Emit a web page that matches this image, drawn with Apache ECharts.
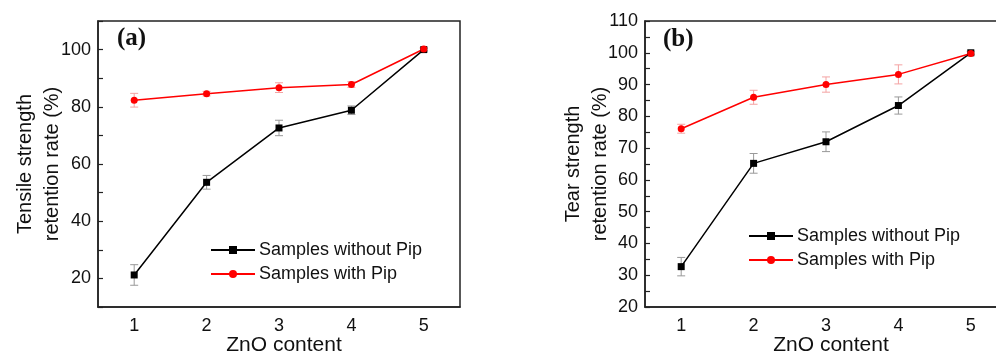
<!DOCTYPE html>
<html>
<head>
<meta charset="utf-8">
<style>
  html, body { margin: 0; padding: 0; background: #fff; }
  #main { width: 996px; height: 352px; }
</style>
<script src="https://cdn.jsdelivr.net/npm/echarts@6/dist/echarts.min.js"></script>
</head>
<body>
<div id="main"></div>
<script>
// ZnO content levels
var categories = ['1', '2', '3', '4', '5']

// (a) tensile strength retention rate (%)
var tensileWithout = [21.2, 53.6, 72.6, 78.8, 100]
var tensileWithoutErr = [3.6, 2.4, 2.7, 1.5, 0.5]
var tensileWith = [82.3, 84.6, 86.7, 87.8, 100.2]
var tensileWithErr = [2.4, 0.8, 1.7, 1.0, 0.5]

// (b) tear strength retention rate (%)
var tearWithout = [32.7, 65.2, 72.0, 83.4, 100]
var tearWithoutErr = [2.9, 3.1, 3.1, 2.7, 0.5]
var tearWith = [76.1, 86.0, 90.0, 93.2, 99.8]
var tearWithErr = [1.4, 2.2, 2.4, 3.0, 0.5]

var font = 'Liberation Sans, Arial, sans-serif'

function errData(vals, errs) {
  return vals.map(function (v, i) { return [i, v - errs[i], v + errs[i]] })
}

// error bars with caps
function errSeries(name, grid, vals, errs, color) {
  return {
    type: 'custom',
    name: name,
    xAxisIndex: grid,
    yAxisIndex: grid,
    z: 1,
    silent: true,
    encode: { x: 0, y: [1, 2] },
    data: errData(vals, errs),
    renderItem: function (params, api) {
      var lo = api.coord([api.value(0), api.value(1)])
      var hi = api.coord([api.value(0), api.value(2)])
      var w = 4
      var st = { stroke: color, lineWidth: 1 }
      return {
        type: 'group',
        children: [
          { type: 'line', shape: { x1: lo[0], y1: lo[1], x2: hi[0], y2: hi[1] }, style: st },
          { type: 'line', shape: { x1: lo[0] - w, y1: lo[1], x2: lo[0] + w, y2: lo[1] }, style: st },
          { type: 'line', shape: { x1: hi[0] - w, y1: hi[1], x2: hi[0] + w, y2: hi[1] }, style: st }
        ]
      }
    }
  }
}

function lineSeries(name, grid, vals, color, symbol) {
  return {
    type: 'line',
    name: name,
    xAxisIndex: grid,
    yAxisIndex: grid,
    z: 3,
    data: vals,
    symbol: symbol,
    symbolSize: 7,
    showAllSymbol: true,
    lineStyle: { color: color, width: 1.5 },
    itemStyle: { color: color },
    emphasis: { disabled: true }
  }
}

function xAxis(grid) {
  return {
    type: 'category',
    gridIndex: grid,
    data: categories,
    boundaryGap: true,
    name: 'ZnO content',
    nameLocation: 'middle',
    nameGap: 28,
    nameMoveOverlap: false,
    nameTextStyle: { fontFamily: font, fontSize: 21, color: '#111', padding: [0, 0, 0, 10] },
    axisLine: { lineStyle: { color: '#222', width: 1.5 } },
    axisTick: { alignWithLabel: true, inside: true, length: 6, lineStyle: { color: '#222', width: 1.2 } },
    axisLabel: { fontFamily: font, fontSize: 18, color: '#111', margin: 10 },
    splitLine: { show: false }
  }
}

var myChart = echarts.init(document.getElementById('main'))
myChart.setOption({
  animation: false,
  title: [
    { text: '(a)', left: 117, top: 26, padding: 0,
      textStyle: { fontFamily: 'Liberation Serif, Times New Roman, serif', fontWeight: 'bold', fontSize: 25, color: '#111' } },
    { text: '(b)', left: 663, top: 27, padding: 0,
      textStyle: { fontFamily: 'Liberation Serif, Times New Roman, serif', fontWeight: 'bold', fontSize: 25, color: '#111' } }
  ],
  legend: [
    {
      left: 210, top: 241, orient: 'vertical', itemGap: 6,
      itemWidth: 44, itemHeight: 10, padding: 0,
      data: ['Samples without Pip', 'Samples with Pip'],
      textStyle: { fontFamily: font, fontSize: 18, color: '#111', padding: [0, 0, 0, -1] }
    },
    {
      left: 748, top: 227, orient: 'vertical', itemGap: 6,
      itemWidth: 44, itemHeight: 10, padding: 0,
      data: ['Samples without Pip ', 'Samples with Pip '],
      textStyle: { fontFamily: font, fontSize: 18, color: '#111', padding: [0, 0, 0, -1] }
    }
  ],
  grid: [
    { left: 98, top: 21, width: 362, height: 286, outerBoundsMode: 'none', containLabel: false,
      show: true, borderColor: '#222', borderWidth: 1.5, backgroundColor: 'transparent' },
    { left: 645, top: 21, width: 362, height: 286, outerBoundsMode: 'none', containLabel: false,
      show: true, borderColor: '#222', borderWidth: 1.5, backgroundColor: 'transparent' }
  ],
  xAxis: [xAxis(0), xAxis(1)],
  yAxis: [
    {
      type: 'value', gridIndex: 0, min: 10, max: 110, interval: 10,
      name: 'Tensile strength\nretention rate (%)',
      nameLocation: 'middle', nameGap: 32, nameMoveOverlap: false,
      nameTextStyle: { fontFamily: font, fontSize: 20, color: '#111', lineHeight: 27 },
      axisLine: { show: true, lineStyle: { color: '#222', width: 1.5 } },
      axisTick: { show: true, inside: true, length: 5, lineStyle: { color: '#222', width: 1.2 } },
      axisLabel: {
        fontFamily: font, fontSize: 18, color: '#111', margin: 7,
        formatter: function (v) { return v % 20 === 0 && v <= 100 ? String(v) : '' }
      },
      splitLine: { show: false }
    },
    {
      type: 'value', gridIndex: 1, min: 20, max: 110, interval: 10,
      name: 'Tear strength\nretention rate (%)',
      nameLocation: 'middle', nameGap: 31, nameMoveOverlap: false,
      nameTextStyle: { fontFamily: font, fontSize: 20, color: '#111', lineHeight: 27 },
      axisLine: { show: true, lineStyle: { color: '#222', width: 1.5 } },
      axisTick: { show: true, inside: true, length: 5, lineStyle: { color: '#222', width: 1.2 } },
      minorTick: { show: true, splitNumber: 2, length: 5, lineStyle: { color: '#222', width: 1.2 } },
      axisLabel: { fontFamily: font, fontSize: 18, color: '#111', margin: 7 },
      splitLine: { show: false }
    }
  ],
  series: [
    errSeries('errA1', 0, tensileWithout, tensileWithoutErr, '#999999'),
    errSeries('errA2', 0, tensileWith, tensileWithErr, '#f4a3a3'),
    lineSeries('Samples without Pip', 0, tensileWithout, '#000000', 'rect'),
    lineSeries('Samples with Pip', 0, tensileWith, '#ff0000', 'circle'),
    errSeries('errB1', 1, tearWithout, tearWithoutErr, '#999999'),
    errSeries('errB2', 1, tearWith, tearWithErr, '#f4a3a3'),
    lineSeries('Samples without Pip ', 1, tearWithout, '#000000', 'rect'),
    lineSeries('Samples with Pip ', 1, tearWith, '#ff0000', 'circle')
  ]
})
</script>
</body>
</html>
